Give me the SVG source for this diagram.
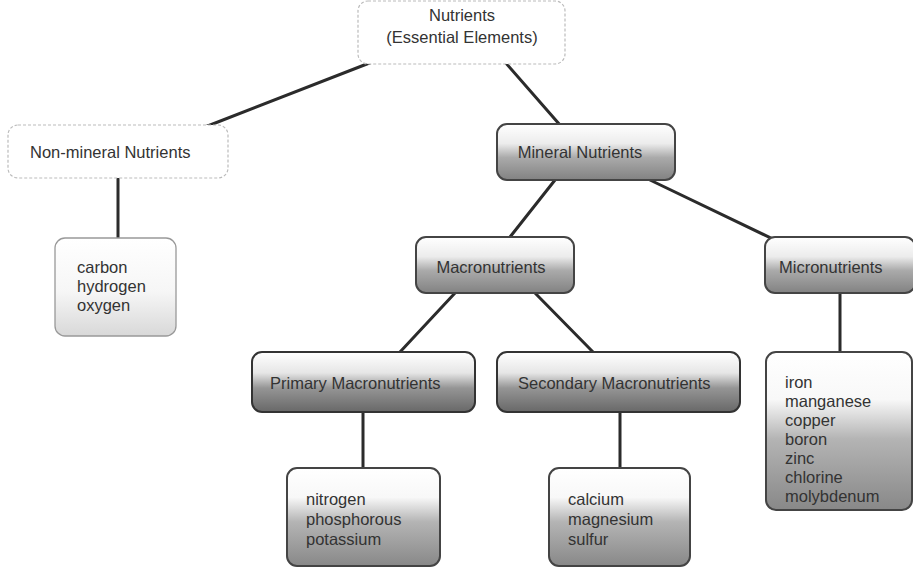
<svg xmlns="http://www.w3.org/2000/svg" width="913" height="569" viewBox="0 0 913 569">
<defs>
<linearGradient id="gLight" x1="0" y1="0" x2="0" y2="1">
<stop offset="0" stop-color="#ffffff"/><stop offset="0.55" stop-color="#f6f6f6"/><stop offset="1" stop-color="#d8d8d8"/>
</linearGradient>
<linearGradient id="gMid" x1="0" y1="0" x2="0" y2="1">
<stop offset="0" stop-color="#ffffff"/><stop offset="0.35" stop-color="#ececec"/><stop offset="0.6" stop-color="#aaaaaa"/><stop offset="1" stop-color="#828282"/>
</linearGradient>
<linearGradient id="gDark" x1="0" y1="0" x2="0" y2="1">
<stop offset="0" stop-color="#ffffff"/><stop offset="0.35" stop-color="#e6e6e6"/><stop offset="0.6" stop-color="#959595"/><stop offset="1" stop-color="#686868"/>
</linearGradient>
<linearGradient id="gLeaf" x1="0" y1="0" x2="0" y2="1">
<stop offset="0" stop-color="#ffffff"/><stop offset="0.3" stop-color="#f8f8f8"/><stop offset="0.55" stop-color="#b4b4b4"/><stop offset="1" stop-color="#888888"/>
</linearGradient>
</defs>
<style>
text{font-family:"Liberation Sans",Arial,sans-serif;font-size:16.5px;fill:#333}
.faint{fill:#fff;stroke:#bbb;stroke-width:1.2;stroke-dasharray:3 2}
.light{fill:url(#gLight);stroke:#999;stroke-width:1.3}
.mid{fill:url(#gMid);stroke:#444;stroke-width:2}
.dark{fill:url(#gDark);stroke:#333;stroke-width:2}
.leaf{fill:url(#gLeaf);stroke:#444;stroke-width:2}
.c line{stroke:#2b2b2b;stroke-width:3;stroke-linecap:round}
</style>
<rect width="913" height="569" fill="#ffffff"/>
<g class="c" id="connectors">
<line x1="372" y1="62" x2="205" y2="127"/>
<line x1="505" y1="62" x2="560" y2="125"/>
<line x1="118" y1="178" x2="118" y2="238"/>
<line x1="555" y1="180" x2="510" y2="237"/>
<line x1="650" y1="180" x2="775" y2="240"/>
<line x1="455" y1="293" x2="400" y2="352"/>
<line x1="535" y1="293" x2="593" y2="352"/>
<line x1="840" y1="293" x2="840" y2="352"/>
<line x1="363" y1="412" x2="363" y2="468"/>
<line x1="620" y1="412" x2="620" y2="468"/>
</g>
<g id="nutrients">
<rect class="faint" x="358" y="1" width="207" height="63" rx="10"/>
<text x="462" y="21" text-anchor="middle">Nutrients</text>
<text x="462" y="43" text-anchor="middle">(Essential Elements)</text>
</g>
<g id="non-mineral">
<rect class="faint" x="8" y="125" width="220" height="53" rx="10"/>
<text x="30" y="158">Non-mineral Nutrients</text>
</g>
<g id="non-mineral-list">
<rect class="light" x="55" y="238" width="121" height="98" rx="10"/>
<text x="77" y="273">carbon</text>
<text x="77" y="292">hydrogen</text>
<text x="77" y="311">oxygen</text>
</g>
<g id="mineral">
<rect class="mid" x="497" y="124" width="178" height="56" rx="10"/>
<text x="580" y="158" text-anchor="middle">Mineral Nutrients</text>
</g>
<g id="macro">
<rect class="mid" x="416" y="237" width="158" height="56" rx="10"/>
<text x="491" y="273" text-anchor="middle">Macronutrients</text>
</g>
<g id="micro">
<rect class="mid" x="765" y="237" width="150" height="56" rx="10"/>
<text x="779" y="273">Micronutrients</text>
</g>
<g id="primary">
<rect class="dark" x="252" y="352" width="223" height="60" rx="10"/>
<text x="270" y="389">Primary Macronutrients</text>
</g>
<g id="secondary">
<rect class="dark" x="497" y="352" width="243" height="60" rx="10"/>
<text x="518" y="389">Secondary Macronutrients</text>
</g>
<g id="primary-list">
<rect class="leaf" x="287" y="468" width="153" height="98" rx="10"/>
<text x="306" y="505">nitrogen</text>
<text x="306" y="525">phosphorous</text>
<text x="306" y="545">potassium</text>
</g>
<g id="secondary-list">
<rect class="leaf" x="549" y="468" width="141" height="98" rx="10"/>
<text x="568" y="505">calcium</text>
<text x="568" y="525">magnesium</text>
<text x="568" y="545">sulfur</text>
</g>
<g id="micro-list">
<rect class="leaf" x="766" y="352" width="146" height="158" rx="10"/>
<text x="785" y="388">iron</text>
<text x="785" y="407">manganese</text>
<text x="785" y="426">copper</text>
<text x="785" y="445">boron</text>
<text x="785" y="464">zinc</text>
<text x="785" y="483">chlorine</text>
<text x="785" y="502">molybdenum</text>
</g>
</svg>
